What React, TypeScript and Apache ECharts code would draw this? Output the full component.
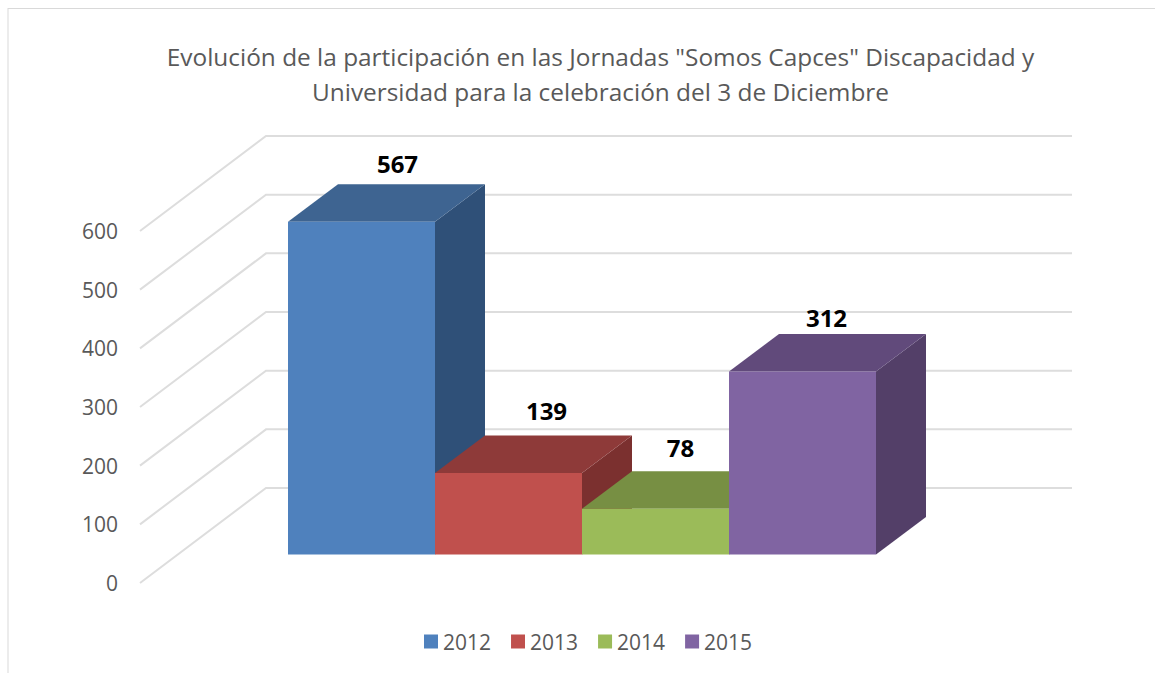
import React, { useEffect, useRef } from "react";
import * as echarts from "echarts";

const titleLines = [
  'Evolución de la participación en las Jornadas "Somos Capces" Discapacidad y',
  "Universidad para la celebración del 3 de Diciembre",
];
const years = ["2012", "2013", "2014", "2015"];
const values = [567, 139, 78, 312];
const yTicks = [0, 100, 200, 300, 400, 500, 600];

const frontColors = ["#4F81BD", "#C0504D", "#9BBB59", "#8064A2"];
const topColors = ["#3E6491", "#8E3A39", "#778F43", "#614A7B"];
const sideColors = ["#2F5078", "#7B302F", "#667A3A", "#533F68"];
const labelShift = [[36, -58], [38, -62], [25, -61], [24, -54]];

const WALL_DX = 126;
const WALL_DY = -95;
const WALL_END = 1072;
const BAR_W = 147;
const BAR_DX = 50;
const BAR_DY = -37.5;
const BAR_FRONT_X = 39;
const BAR_FRONT_Y = -28.5;
const FONT = "'Open Sans', sans-serif";

export default function App() {
  const ref = useRef<HTMLDivElement>(null);

  useEffect(() => {
    const chart = echarts.init(ref.current!, null, { renderer: "svg" });

    const gridSeries: any = {
      type: "custom",
      silent: true,
      clip: false,
      z: 1,
      data: yTicks.map((v) => [0, v]),
      renderItem: (_: any, api: any) => {
        const [x, y] = api.coord([0, api.value(1)]);
        const left = x - 403;
        return {
          type: "polyline",
          shape: {
            points: [
              [left, y],
              [left + WALL_DX, y + WALL_DY],
              [WALL_END, y + WALL_DY],
            ],
          },
          style: { stroke: "#DDDDDD", lineWidth: 2, fill: "none" },
        };
      },
    };

    const barSeries: any[] = years.map((year, i) => ({
      type: "custom",
      name: year,
      clip: false,
      z: 2 + i,
      itemStyle: { color: frontColors[i] },
      data: [[0, values[i]]],
      renderItem: (_: any, api: any) => {
        const [cx, yTop] = api.coord([0, api.value(1)]);
        const [, yBase] = api.coord([0, 0]);
        const l = cx + (i - 2) * BAR_W + BAR_FRONT_X;
        const r = l + BAR_W;
        const t = yTop + BAR_FRONT_Y;
        const b = yBase + BAR_FRONT_Y;
        return {
          type: "group",
          children: [
            {
              type: "polygon",
              shape: { points: [[r, t], [r + BAR_DX, t + BAR_DY], [r + BAR_DX, b + BAR_DY], [r, b]] },
              style: { fill: sideColors[i] },
            },
            {
              type: "polygon",
              shape: { points: [[l, t], [l + BAR_DX, t + BAR_DY], [r + BAR_DX, t + BAR_DY], [r, t]] },
              style: { fill: topColors[i] },
            },
            {
              type: "rect",
              shape: { x: l, y: t, width: BAR_W, height: b - t },
              style: { fill: frontColors[i] },
            },
            {
              type: "text",
              z2: 50,
              style: {
                text: String(api.value(1)),
                x: (l + r) / 2 + labelShift[i][0],
                y: t + labelShift[i][1],
                align: "center",
                verticalAlign: "middle",
                fill: "#000000",
                font: `bold 24px ${FONT}`,
              },
            },
          ],
        };
      },
    }));

    chart.setOption({
      animation: false,
      backgroundColor: "#FFFFFF",
      title: {
        text: titleLines.join("\n"),
        left: 595.5,
        top: 34,
        textAlign: "center",
        textStyle: {
          color: "#595959",
          fontFamily: FONT,
          fontWeight: "normal",
          fontSize: 24.4,
          lineHeight: 35,
        },
      },
      legend: {
        data: years,
        left: 419,
        top: 626,
        icon: "rect",
        itemWidth: 14,
        itemHeight: 14,
        itemGap: 20,
        selectedMode: false,
        textStyle: { color: "#595959", fontFamily: FONT, fontSize: 21 },
      },
      grid: { left: 140, top: 231, width: 806, height: 352 },
      xAxis: { type: "category", data: ["Total"], show: false },
      yAxis: {
        type: "value",
        min: 0,
        max: 600,
        interval: 100,
        axisLine: { show: false },
        axisTick: { show: false },
        splitLine: { show: false },
        axisLabel: {
          margin: 22,
          color: "#595959",
          fontFamily: FONT,
          fontSize: 21,
        },
      },
      graphic: [
        { type: "line", shape: { x1: 8, y1: 8.5, x2: 1155, y2: 8.5 }, style: { stroke: "#D9D9D9", lineWidth: 1 } },
        { type: "line", shape: { x1: 8, y1: 8, x2: 8, y2: 673 }, style: { stroke: "#D9D9D9", lineWidth: 1 } },
      ],
      series: [gridSeries, ...barSeries],
    });

    return () => chart.dispose();
  }, []);

  return <div ref={ref} style={{ position: "absolute", left: 0, top: 0, width: 1155, height: 673 }} />;
}
